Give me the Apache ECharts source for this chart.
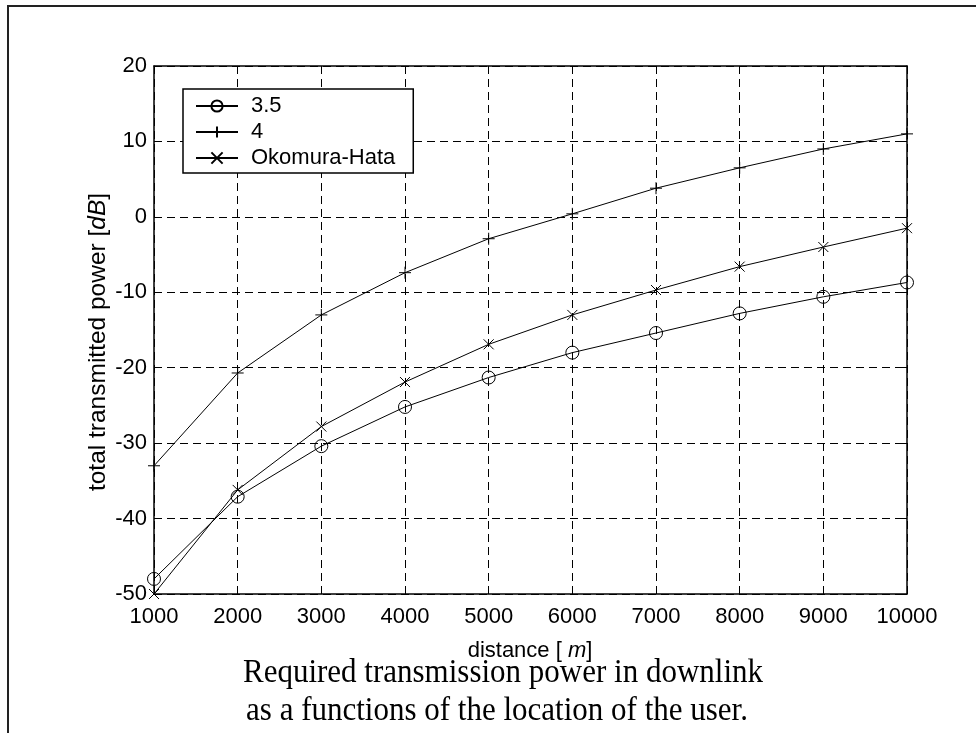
<!DOCTYPE html>
<html>
<head>
<meta charset="utf-8">
<script src="https://cdn.jsdelivr.net/npm/echarts@6/dist/echarts.min.js"></script>
<style>
html,body{margin:0;padding:0;background:#fff;}
#chart{width:976px;height:733px;}
</style>
</head>
<body>
<div id="chart"></div>
<script>
// ---- data ----
const distances = [1000, 2000, 3000, 4000, 5000, 6000, 7000, 8000, 9000, 10000];
const exp35 = [-48.0, -37.1, -30.4, -25.2, -21.3, -18.0, -15.4, -12.8, -10.6, -8.7];
const exp4 = [-33.0, -20.7, -13.0, -7.4, -2.9, 0.4, 3.8, 6.5, 9.0, 11.0];
const okumuraHata = [-50.0, -36.2, -27.8, -21.9, -16.9, -13.0, -9.7, -6.6, -4.0, -1.5];
const seriesNames = ['3.5', '4', 'Okomura-Hata'];
const xTitle = ['distance [ ', 'm', ']'];
const yTitle = ['total transmitted power [', 'dB', ']'];
const caption = ['Required transmission power in downlink', 'as a functions of the location of the user.'];

const FONT = "'Liberation Sans', Arial, Helvetica, sans-serif";
const SERIF = "'Liberation Serif', 'Times New Roman', serif";

function pairs(ys) { return distances.map((d, i) => [d, ys[i]]); }

const chart = echarts.init(document.getElementById('chart'), null, {renderer: 'canvas'});

const baseSeries = {
  type: 'line',
  clip: false,
  showAllSymbol: true,
  lineStyle: {color: '#000', width: 1},
  itemStyle: {color: 'transparent', borderColor: '#000', borderWidth: 1},
  emphasis: {disabled: true},
  z: 3
};

const gridBox = {left: 154, top: 66, width: 753, height: 528};
const axisLineStyle = {color: '#000', width: 1.5};

const option = {
  animation: false,
  backgroundColor: '#fff',
  grid: Object.assign({containLabel: false}, gridBox),
  legend: {
    orient: 'vertical',
    left: 183,
    top: 89,
    padding: [6, 18, 4, 12],
    itemWidth: 42,
    itemHeight: 14,
    itemGap: 4,
    backgroundColor: '#fff',
    borderColor: '#000',
    borderWidth: 1.5,
    borderRadius: 0,
    selectedMode: false,
    textStyle: {color: '#000', fontFamily: FONT, fontSize: 22, lineHeight: 22, padding: [0, 0, 0, 8]},
    data: seriesNames
  },
  xAxis: [{
    type: 'value',
    min: 1000, max: 10000, interval: 1000,
    position: 'bottom',
    axisLine: {show: true, onZero: false, lineStyle: axisLineStyle},
    axisTick: {show: true, inside: true, length: 7, lineStyle: {color: '#000'}},
    axisLabel: {color: '#000', fontFamily: FONT, fontSize: 22, margin: 12, formatter: v => String(v)},
    splitLine: {show: true, lineStyle: {color: '#000', width: 1, type: [8, 5]}}
  }, {
    type: 'value',
    min: 1000, max: 10000, interval: 1000,
    position: 'top',
    axisLine: {show: true, onZero: false, lineStyle: axisLineStyle},
    axisTick: {show: true, inside: true, length: 7, lineStyle: {color: '#000'}},
    axisLabel: {show: false},
    splitLine: {show: false}
  }],
  yAxis: [{
    type: 'value',
    min: -50, max: 20, interval: 10,
    position: 'left',
    axisLine: {show: true, onZero: false, lineStyle: axisLineStyle},
    axisTick: {show: true, inside: true, length: 7, lineStyle: {color: '#000'}},
    axisLabel: {color: '#000', fontFamily: FONT, fontSize: 22, margin: 7, formatter: v => String(v)},
    splitLine: {show: true, lineStyle: {color: '#000', width: 1, type: [8, 5]}}
  }, {
    type: 'value',
    min: -50, max: 20, interval: 10,
    position: 'right',
    axisLine: {show: true, onZero: false, lineStyle: axisLineStyle},
    axisTick: {show: true, inside: true, length: 7, lineStyle: {color: '#000'}},
    axisLabel: {show: false},
    splitLine: {show: false}
  }],
  series: [
    Object.assign({}, baseSeries, {
      name: seriesNames[0], data: pairs(exp35),
      symbol: 'circle', symbolSize: 13
    }),
    Object.assign({}, baseSeries, {
      name: seriesNames[1], data: pairs(exp4),
      symbol: 'path://M6,0L6,12M0,6L12,6', symbolSize: 12
    }),
    Object.assign({}, baseSeries, {
      name: seriesNames[2], data: pairs(okumuraHata),
      symbol: 'path://M0,0L10,10M10,0L0,10', symbolSize: 10
    })
  ],
  graphic: [
    {
      type: 'rect', silent: true, z: 10,
      shape: {x: 8, y: 6, width: 1200, height: 1200},
      style: {fill: 'none', stroke: '#222', lineWidth: 2}
    },
    {
      type: 'text', silent: true, z: 10,
      x: 530, y: 651,
      style: {
        text: '{a|' + xTitle[0] + '}{b|' + xTitle[1] + '}{a|' + xTitle[2] + '}',
        align: 'center', verticalAlign: 'middle',
        rich: {
          a: {fontFamily: FONT, fontSize: 22, fill: '#000'},
          b: {fontFamily: FONT, fontSize: 22, fontStyle: 'italic', fill: '#000'}
        }
      }
    },
    {
      type: 'text', silent: true, z: 10,
      x: 98, y: 342, rotation: Math.PI / 2,
      style: {
        text: '{a|' + yTitle[0] + '}{b|' + yTitle[1] + '}{a|' + yTitle[2] + '}',
        align: 'center', verticalAlign: 'middle',
        rich: {
          a: {fontFamily: FONT, fontSize: 24.5, fill: '#000'},
          b: {fontFamily: FONT, fontSize: 24.5, fontStyle: 'italic', fill: '#000'}
        }
      }
    },
    {
      type: 'text', silent: true, z: 10,
      x: 503, y: 673, scaleY: 1.12,
      style: {text: caption[0], fontFamily: SERIF, fontSize: 31, fill: '#000', align: 'center', verticalAlign: 'middle'}
    },
    {
      type: 'text', silent: true, z: 10,
      x: 497, y: 711, scaleY: 1.12,
      style: {text: caption[1], fontFamily: SERIF, fontSize: 31, fill: '#000', align: 'center', verticalAlign: 'middle'}
    }
  ]
};

chart.setOption(option);
</script>
</body>
</html>
